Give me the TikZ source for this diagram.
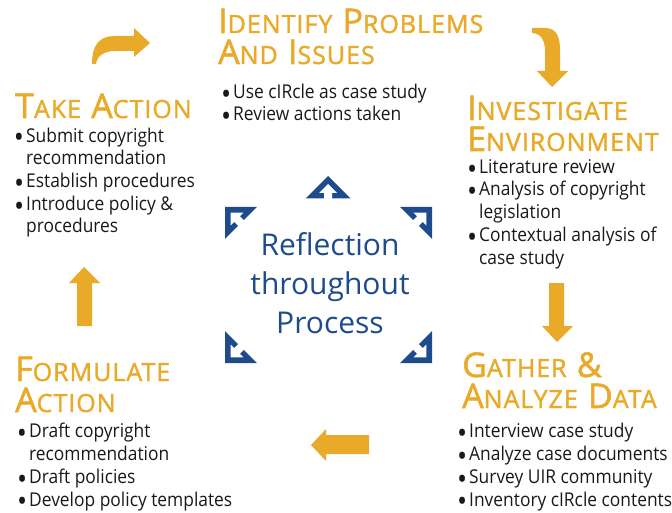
\documentclass[tikz,border=0pt]{standalone}
\usepackage{fontspec}
\usepackage{graphicx}
\setmainfont{Open Sans}
\newfontfamily\bodyfont{Open Sans}[FakeStretch=0.915]
\newfontfamily\titlefont{Open Sans}[LetterSpace=4, FakeBold=1.5]
\usetikzlibrary{positioning}
\definecolor{gold}{RGB}{233,169,41}
\definecolor{navy}{RGB}{30,75,140}
\definecolor{ink}{RGB}{25,25,25}
\newcommand\smc[2]{{\fontsize{34}{31}\selectfont #1}{\fontsize{25}{31}\selectfont #2}}
\newcommand\bul{\makebox[11pt][l]{\hspace*{-1.2pt}\raisebox{-5.8pt}{\scalebox{1.55}{•}}}}
\newcommand\hang{\hspace*{11pt}}

\begin{document}
\begin{tikzpicture}[
    x=1pt, y=-1pt,
    ttl/.style={anchor=base west, inner sep=0, align=left, text=gold, font=\titlefont\fontsize{34}{31}\selectfont},
    items/.style={anchor=base west, inner sep=0, align=left, text=ink, font=\bodyfont\fontsize{19}{22.7}\selectfont},
    reflect/.pic={
      \fill[navy] (0,0) -- (-22.5,22.5) -- (22.5,22.5) -- cycle;
      \fill[white] (0,8) -- (9,17) -- (4,17) -- (4,24) -- (-4,24) -- (-4,17) -- (-9,17) -- cycle;
    }
]
\useasboundingbox (0,0) rectangle (672,513);

% Stage titles (base = last line)
\node[ttl] (identify) at (218,64) {\smc{I}{DENTIFY} \smc{P}{ROBLEMS}\\\smc{A}{ND} \smc{I}{SSUES}};
\node[ttl] (investigate) at (467,151) {\smc{I}{NVESTIGATE}\\\smc{E}{NVIRONMENT}};
\node[ttl] (gather) at (462,408) {\smc{G}{ATHER} \smc{\&}{}\\\smc{A}{NALYZE} \smc{D}{ATA}};
\node[ttl] (formulate) at (15,412) {\smc{F}{ORMULATE}\\\smc{A}{CTION}};
\node[ttl] (take) at (15,118) {\smc{T}{AKE} \smc{A}{CTION}};

% Stage items
\node[items] (identifyL) at (222,121) {\bul Use cIRcle as case study\\\bul Review actions taken};
\node[items] (investigateL) at (468,264) {\bul Literature review\\\bul Analysis of copyright\\\hang legislation\\\bul Contextual analysis of\\\hang case study};
\node[items] (gatherL) at (458,506) {\bul Interview case study\\\bul Analyze case documents\\\bul Survey UIR community\\\bul Inventory cIRcle contents};
\node[items] (formulateL) at (18,506) {\bul Draft copyright\\\hang recommendation\\\bul Draft policies\\\bul Develop policy templates};
\node[items] (takeL) at (15,233) {\bul Submit copyright\\\hang recommendation\\\bul Establish procedures\\\bul Introduce policy \&\\\hang procedures};

% Centre
\node[anchor=base, inner sep=0, align=center, text=navy, font=\fontsize{30}{39}\selectfont] (centre) at (330,333) {Reflection\\throughout\\Process};
\pic at (328,176) {reflect};
\pic[rotate=45] at (225,207) {reflect};
\pic[rotate=-45] at (432,207) {reflect};
\pic[rotate=135] at (225,363) {reflect};
\pic[rotate=-135] at (432,363) {reflect};

% Cycle arrows
\fill[gold] (92,64) .. controls (92,44) and (100,36) .. (115,36) -- (134,36) -- (134,28) -- (150,43)
  -- (134,57) -- (134,51) -- (115,51) .. controls (104,51) and (97,56) .. (96,64) -- cycle;
\fill[gold] (532,28) -- (545,28) .. controls (556,28) and (560,36) .. (560,50) -- (560,71) -- (568,71)
  -- (552,87) -- (537,71) -- (545,71) -- (545,50) .. controls (545,40) and (540,33) .. (532,33) -- cycle;
\fill[gold] (549,283) -- (564,283) -- (564,326) -- (573,326) -- (557,342) -- (542,326) -- (549,326) -- cycle;
\fill[gold] (369,435) -- (369,454) -- (326,454) -- (326,461) -- (311,445) -- (326,429) -- (326,435) -- cycle;
\fill[gold] (77,326) -- (92,326) -- (92,283) -- (100,283) -- (84,267) -- (69,283) -- (77,283) -- cycle;
\end{tikzpicture}
\end{document}
